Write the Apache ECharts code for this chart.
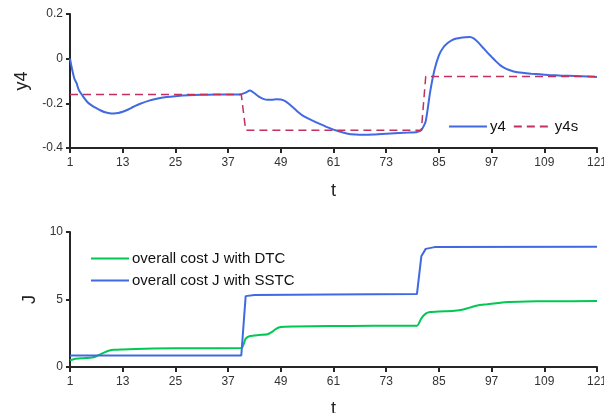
<!DOCTYPE html>
<html>
<head>
<meta charset="utf-8">
<script src="https://cdn.jsdelivr.net/npm/echarts@6/dist/echarts.min.js"></script>
<style>
  html, body { margin: 0; padding: 0; background: #fff; }
  #chart { width: 604px; height: 413px; }
</style>
</head>
<body>
<div id="chart"></div>
<script>
// tick labels on t axis
const tTicks = [1, 13, 25, 37, 49, 61, 73, 85, 97, 109, 121];

// y4 response
const tY4 = [1, 1.5, 2, 2.5, 3, 4, 5, 6, 7, 8, 9, 10, 11, 12, 13, 14, 15, 16, 17, 19, 21, 23, 25, 28, 31, 34, 37, 39,
  40, 41, 42, 43, 44, 45, 46, 47, 48, 49, 50, 51, 52, 53, 54, 56, 58, 60, 62, 64, 66, 68, 70, 72, 74, 76, 78, 80,
  81, 82, 83, 84, 85, 86, 87, 88, 89, 90, 91, 92, 93, 94, 95, 96, 97, 98, 99, 100, 101, 102, 104, 106, 108, 110,
  113, 116, 119, 121];
const y4 = [0, -0.05, -0.09, -0.11, -0.14, -0.17, -0.195, -0.21, -0.222, -0.232, -0.24, -0.244, -0.245, -0.243, -0.238,
  -0.23, -0.22, -0.21, -0.202, -0.188, -0.178, -0.172, -0.168, -0.164, -0.162, -0.161, -0.16, -0.16,
  -0.159, -0.152, -0.143, -0.155, -0.17, -0.18, -0.184, -0.184, -0.182, -0.183, -0.19, -0.205, -0.222, -0.24, -0.255,
  -0.275, -0.293, -0.31, -0.324, -0.335, -0.34, -0.341, -0.34, -0.337, -0.335, -0.333, -0.331, -0.328,
  -0.32, -0.28, -0.15, -0.05, 0.015, 0.05, 0.07, 0.083, 0.09, 0.094, 0.096, 0.097, 0.09, 0.072, 0.05, 0.028, 0.008,
  -0.012, -0.03, -0.042, -0.051, -0.057, -0.063, -0.067, -0.07, -0.073, -0.076, -0.078, -0.08, -0.082];

// y4s setpoint
const tY4s = [1, 40, 41, 81, 82, 121];
const y4s = [-0.16, -0.16, -0.32, -0.32, -0.08, -0.08];

// overall cost J, DTC
const tDTC = [1, 2, 4, 6, 7, 8, 9, 10, 11, 13, 16, 20, 30, 40, 41, 42, 44, 46, 47, 48, 49, 52, 60, 70, 80,
  81, 82, 83, 85, 88, 90, 92, 94, 96, 98, 100, 105, 110, 121];
const jDTC = [0.5, 0.6, 0.65, 0.7, 0.8, 0.95, 1.1, 1.22, 1.27, 1.3, 1.34, 1.37, 1.39, 1.4, 2.1, 2.3, 2.37, 2.42, 2.6,
  2.85, 2.97, 3.0, 3.03, 3.05, 3.06, 3.6, 3.95, 4.07, 4.12, 4.15, 4.22, 4.4, 4.58, 4.64, 4.72, 4.8, 4.85, 4.87, 4.88];

// overall cost J, SSTC
const tSSTC = [1, 40, 41, 43, 60, 80, 81, 82, 84, 121];
const jSSTC = [0.85, 0.85, 5.25, 5.33, 5.37, 5.4, 8.2, 8.75, 8.88, 8.9];

const zip = (xs, ys) => xs.map((x, i) => [x, ys[i]]);

const axisColor = '#262626';
const font = 'Liberation Sans, Arial, sans-serif';
const labelStyle = { color: '#333', fontSize: 12, fontFamily: font };
const nameStyle = { color: '#222', fontSize: 18, fontFamily: font };
const legendText = { fontSize: 15, color: '#111', fontFamily: font, padding: [0, 0, 0, -2] };

const xAxisFor = (gridIndex, gap) => ({
  type: 'value',
  gridIndex: gridIndex,
  min: 1,
  max: 121,
  name: 't',
  nameLocation: 'middle',
  nameGap: gap,
  nameTextStyle: nameStyle,
  axisLine: { show: true, onZero: false, lineStyle: { color: axisColor, width: 2 } },
  axisTick: { show: true, customValues: tTicks, length: 5, lineStyle: { color: axisColor, width: 2 } },
  axisLabel: Object.assign({ customValues: tTicks, margin: 9 }, labelStyle),
  splitLine: { show: false }
});

const yAxisFor = (gridIndex, name, min, max, interval, gap) => ({
  type: 'value',
  gridIndex: gridIndex,
  min: min,
  max: max,
  interval: interval,
  name: name,
  nameLocation: 'middle',
  nameGap: gap,
  nameTextStyle: nameStyle,
  axisLine: { show: true, onZero: false, lineStyle: { color: axisColor, width: 2 } },
  axisTick: { show: true, length: 4, lineStyle: { color: axisColor, width: 2 } },
  axisLabel: Object.assign({ margin: 7 }, labelStyle),
  splitLine: { show: false }
});

const chart = echarts.init(document.getElementById('chart'));
chart.setOption({
  animation: false,
  backgroundColor: '#fff',
  grid: [
    { left: 70, right: 7, top: 14, height: 134, outerBoundsMode: 'none', containLabel: false },
    { left: 70, right: 7, top: 232, height: 135, outerBoundsMode: 'none', containLabel: false }
  ],
  legend: [
    {
      data: ['y4', 'y4s'],
      left: 448,
      top: 119,
      padding: 0,
      itemWidth: 38,
      itemHeight: 14,
      itemGap: 7,
      itemStyle: { opacity: 0 },
      textStyle: legendText
    },
    {
      data: ['overall cost J with DTC', 'overall cost J with SSTC'],
      orient: 'vertical',
      left: 90,
      top: 251,
      padding: 0,
      itemWidth: 38,
      itemHeight: 14,
      itemGap: 7,
      itemStyle: { opacity: 0 },
      textStyle: legendText
    }
  ],
  xAxis: [xAxisFor(0, 34), xAxisFor(1, 33)],
  yAxis: [
    yAxisFor(0, 'y4', -0.4, 0.2, 0.2, 31),
    yAxisFor(1, 'J', 0, 10, 5, 29)
  ],
  series: [
    {
      name: 'y4', type: 'line', xAxisIndex: 0, yAxisIndex: 0,
      data: zip(tY4, y4), symbol: 'none', smooth: 0.2,
      lineStyle: { color: '#4169e1', width: 2 }, itemStyle: { color: '#4169e1' }
    },
    {
      name: 'y4s', type: 'line', xAxisIndex: 0, yAxisIndex: 0,
      data: zip(tY4s, y4s), symbol: 'none',
      lineStyle: { color: '#c2305f', width: 1.5, type: [8, 5] }, itemStyle: { color: '#c2305f' }
    },
    {
      name: 'overall cost J with DTC', type: 'line', xAxisIndex: 1, yAxisIndex: 1,
      data: zip(tDTC, jDTC), symbol: 'none', smooth: 0.2,
      lineStyle: { color: '#00c853', width: 2 }, itemStyle: { color: '#00c853' }
    },
    {
      name: 'overall cost J with SSTC', type: 'line', xAxisIndex: 1, yAxisIndex: 1,
      data: zip(tSSTC, jSSTC), symbol: 'none',
      lineStyle: { color: '#4169e1', width: 2 }, itemStyle: { color: '#4169e1' }
    }
  ]
});
</script>
</body>
</html>
